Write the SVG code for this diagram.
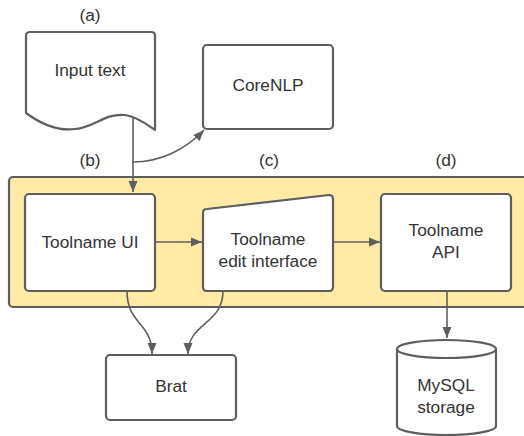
<svg xmlns="http://www.w3.org/2000/svg" width="524" height="436" viewBox="0 0 524 436">
<defs>
<marker id="ah" markerUnits="userSpaceOnUse" markerWidth="12" markerHeight="12" viewBox="0 0 12 12" refX="11" refY="6" orient="auto">
<path d="M0,1.5 L11,6 L0,10.5 Z" fill="#5e5e5e"/>
</marker>
<style>
.s{fill:#fff;stroke:#5e5e5e;stroke-width:2.2;stroke-linejoin:round}
.c{fill:none;stroke:#5e5e5e;stroke-width:1.6}
text{font-family:"Liberation Sans",Arial,sans-serif;font-size:17.3px;fill:#333;text-anchor:middle}
</style>
</defs>
<g id="container">
<rect x="9" y="177" width="530" height="130" rx="4" fill="#ffeaa6" stroke="#5e5e5e" stroke-width="2.2"/>
</g>
<g id="labels">
<text x="90" y="21">(a)</text>
<text x="90" y="166">(b)</text>
<text x="269" y="166">(c)</text>
<text x="446" y="166">(d)</text>
</g>
<g id="input-text">
<path class="s" d="M30,32 L151,32 Q155,32 155,36 L155,130 C148,125 138,117 125,115 C105,113 95,127 75,129 C60,131 45,127 26,113 L26,36 Q26,32 30,32 Z"/>
<text x="90" y="76">Input text</text>
</g>
<g id="corenlp">
<rect class="s" x="203" y="45" width="130" height="84" rx="4"/>
<text x="268" y="91">CoreNLP</text>
</g>
<g id="toolname-ui">
<rect class="s" x="25" y="194" width="130" height="97" rx="4"/>
<text x="90" y="248">Toolname UI</text>
</g>
<g id="edit-interface">
<path class="s" d="M207,209 L329,195 Q333,195 333,199 L333,287 Q333,291 329,291 L207,291 Q203,291 203,287 L203,213 Q203,209 207,209 Z"/>
<text x="268" y="245">Toolname</text>
<text x="268" y="267">edit interface</text>
</g>
<g id="toolname-api">
<rect class="s" x="381" y="194" width="130" height="97" rx="4"/>
<text x="446" y="236">Toolname</text>
<text x="446" y="258">API</text>
</g>
<g id="brat">
<rect class="s" x="106" y="355" width="130" height="65" rx="4"/>
<text x="171" y="392">Brat</text>
</g>
<g id="mysql">
<path class="s" d="M397,349 L397,426 A49.5,9 0 0 0 496,426 L496,349"/>
<ellipse class="s" cx="446.5" cy="349" rx="49.5" ry="9"/>
<text x="446" y="391">MySQL</text>
<text x="446" y="413">storage</text>
</g>
<g id="connectors">
<path class="c" d="M133,117 L133,192" marker-end="url(#ah)"/>
<path class="c" d="M133,162 C160,162 185,150 204,130" marker-end="url(#ah)"/>
<path class="c" d="M155,242 L202,242" marker-end="url(#ah)"/>
<path class="c" d="M333,242 L380,242" marker-end="url(#ah)"/>
<path class="c" d="M447,291 L447,338" marker-end="url(#ah)"/>
<path class="c" d="M127,291 C127,325 152,322 152,354" marker-end="url(#ah)"/>
<path class="c" d="M223,291 C223,325 188,322 188,354" marker-end="url(#ah)"/>
</g>
</svg>
